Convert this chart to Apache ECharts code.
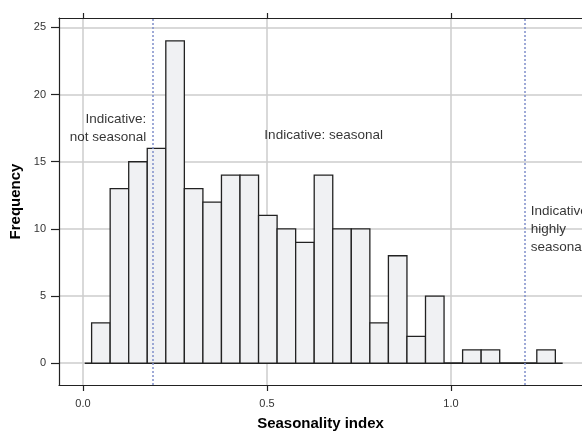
<!DOCTYPE html>
<html>
<head>
<meta charset="utf-8">
<script src="https://cdn.jsdelivr.net/npm/echarts@6/dist/echarts.min.js"></script>
<style>
html,body{margin:0;padding:0;background:#fff;}
#main{width:582px;height:431px;}
</style>
</head>
<body>
<div id="main"></div>
<script>
var counts = [3, 13, 15, 16, 24, 13, 12, 14, 14, 11, 10, 9, 14, 10, 10, 3, 8, 2, 5, 0, 1, 1, 0, 0, 1];
var binStart = 0.0236;
var binWidth = 0.0504;
var xTicks = [0, 0.5, 1.0];
var yTicks = [0, 5, 10, 15, 20, 25];
var cutoffs = [0.19, 1.2];
var baseline = [[0.005, 0], [1.3035, 0]];
var notes = [
  [0.172, 17.5, 'Indicative:\nnot seasonal', 'right'],
  [0.493, 17.0, 'Indicative: seasonal', 'left'],
  [1.217, 9.95, 'Indicative:\nhighly\nseasonal', 'left']
];

var FONT = 'Liberation Sans, Arial, sans-serif';

var bins = counts.map(function (c, i) {
  var a = binStart + i * binWidth;
  return [a, a + binWidth, c];
});

var myChart = echarts.init(document.getElementById('main'));

var option = {
  animation: false,
  backgroundColor: '#fff',
  grid: { left: 59, top: 18, right: 0, bottom: 46, containLabel: false, outerBoundsMode: 'none' },
  xAxis: [{
    type: 'value',
    position: 'bottom',
    min: -0.065,
    max: 1.356,
    name: 'Seasonality index',
    nameLocation: 'middle',
    nameGap: 31,
    nameTextStyle: { fontFamily: FONT, fontSize: 15, fontWeight: 'bold', color: '#000' },
    axisLine: { show: true, onZero: false, lineStyle: { color: '#222', width: 1.2 } },
    axisTick: { show: true, customValues: xTicks, length: 6, lineStyle: { color: '#222', width: 1.2 } },
    axisLabel: {
      customValues: xTicks, margin: 13, fontFamily: FONT, fontSize: 11, color: '#333',
      formatter: function (v) { return v.toFixed(1); }
    },
    splitLine: { show: true, lineStyle: { color: '#cccccc', width: 1.5 } }
  }, {
    type: 'value',
    position: 'top',
    min: -0.065,
    max: 1.356,
    axisLine: { show: true, onZero: false, lineStyle: { color: '#222', width: 1.2 } },
    axisTick: { show: true, customValues: xTicks, length: 5, lineStyle: { color: '#222', width: 1.2 } },
    axisLabel: { show: false },
    splitLine: { show: false }
  }],
  yAxis: {
    type: 'value',
    min: -1.62,
    max: 25.7,
    name: 'Frequency',
    nameLocation: 'middle',
    nameGap: 34,
    nameTextStyle: { fontFamily: FONT, fontSize: 15, fontWeight: 'bold', color: '#000' },
    axisLine: { show: true, onZero: false, lineStyle: { color: '#222', width: 1.2 } },
    axisTick: { show: true, customValues: yTicks, length: 8, lineStyle: { color: '#222', width: 1.2 } },
    axisLabel: { customValues: yTicks, margin: 13, fontFamily: FONT, fontSize: 11, color: '#333' },
    splitLine: { show: true, lineStyle: { color: '#cccccc', width: 1.5 } }
  },
  series: [
    {
      type: 'line',
      data: baseline,
      symbol: 'none',
      lineStyle: { color: '#222', width: 1.3 },
      z: 2,
      markLine: {
        silent: true,
        symbol: 'none',
        label: { show: false },
        lineStyle: { type: [2, 2], color: '#7f8fca', width: 1.5 },
        data: cutoffs.map(function (c) { return { xAxis: c }; })
      }
    },
    {
      type: 'custom',
      data: bins,
      encode: { x: [0, 1], y: 2 },
      z: 3,
      renderItem: function (params, api) {
        var p0 = api.coord([api.value(0), 0]);
        var p1 = api.coord([api.value(1), api.value(2)]);
        return {
          type: 'rect',
          shape: { x: p0[0], y: p1[1], width: p1[0] - p0[0], height: p0[1] - p1[1] },
          style: { fill: '#f0f1f3', stroke: '#222', lineWidth: 1.3 }
        };
      }
    },
    {
      type: 'scatter',
      symbolSize: 0,
      z: 5,
      data: notes.map(function (n) {
        return {
          value: [n[0], n[1]],
          label: {
            show: true,
            formatter: n[2],
            position: [0, 0],
            align: n[3],
            verticalAlign: 'middle',
            fontFamily: FONT,
            fontSize: 13.5,
            lineHeight: 18,
            color: '#000'
          }
        };
      })
    }
  ]
};

myChart.setOption(option);
</script>
</body>
</html>
